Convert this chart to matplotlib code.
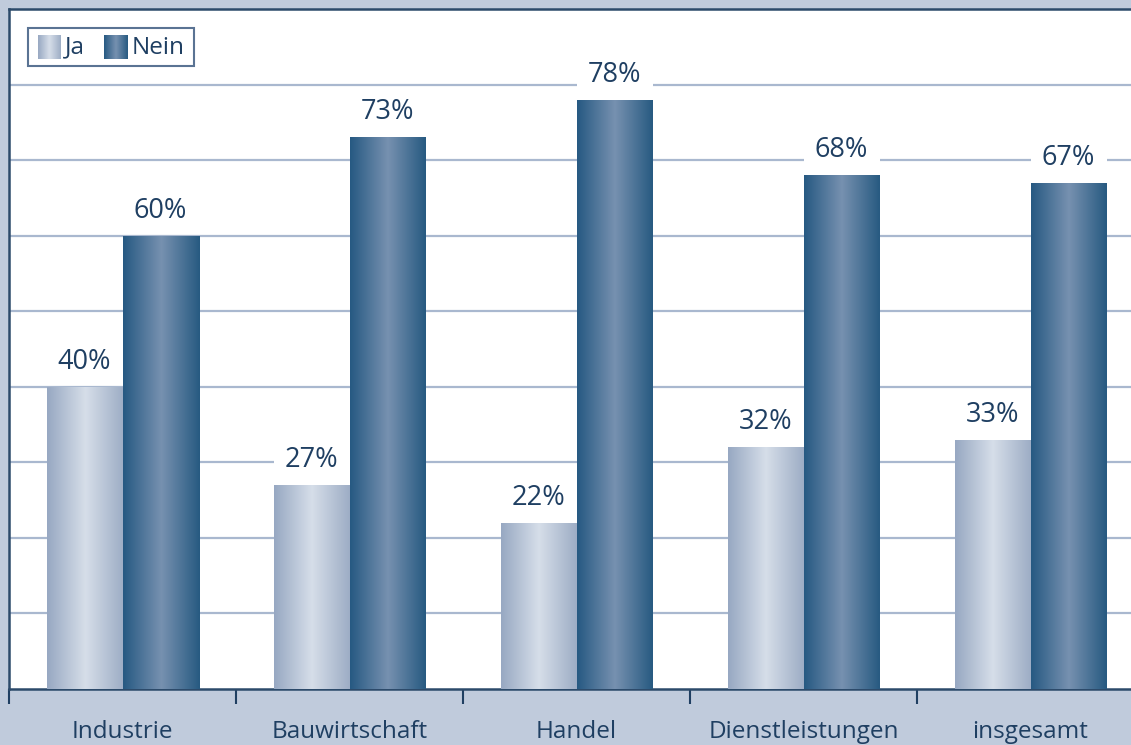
import numpy as np
import matplotlib
matplotlib.use("Agg")
import matplotlib.pyplot as plt
from matplotlib.patches import Rectangle
from matplotlib.colors import LinearSegmentedColormap

categories = ["Industrie", "Bauwirtschaft", "Handel", "Dienstleistungen", "insgesamt"]
ja = [40, 27, 22, 32, 33]
nein = [60, 73, 78, 68, 67]
series_names = ["Ja", "Nein"]

plt.rcParams['font.family'] = ['Open Sans', 'DejaVu Sans']

BG = "#c0cbdc"
DARK = "#1f3f62"
GRID = "#a9b8cf"

cmap_ja = LinearSegmentedColormap.from_list("ja", ["#97a8c2", "#d6dee9", "#9dadc5"])
cmap_nein = LinearSegmentedColormap.from_list("nein", ["#265982", "#7791b0", "#275a81"])
grad = np.linspace(0, 1, 256).reshape(1, -1)

W, H = 1131, 745
fig = plt.figure(figsize=(W / 100, H / 100), dpi=100, facecolor=BG)
ax = fig.add_axes([9 / W, (H - 689) / H, 1 - 9 / W, (689 - 9) / H])
ax.set_facecolor("white")

bw = 76 / 227
x = np.arange(len(categories))

for yv in range(10, 90, 10):
    ax.axhline(yv, color=GRID, lw=1.6, zorder=1)

def grad_bar(x0, h, cmap):
    rect = Rectangle((x0, 0), bw, h, facecolor="none", edgecolor="none", zorder=3)
    ax.add_patch(rect)
    im = ax.imshow(grad, cmap=cmap, extent=[x0, x0 + bw, 0, h], aspect="auto",
                   zorder=3, interpolation="bicubic")
    im.set_clip_path(rect)

px = 90 / 680  # data units per pixel
for i in range(len(categories)):
    for vals, x0, cmap in ((ja, x[i] - bw, cmap_ja), (nein, x[i], cmap_nein)):
        v = vals[i]
        grad_bar(x0, v, cmap)
        ax.add_patch(Rectangle((x0, v + 3 * px), bw, 38 * px, facecolor="white",
                               edgecolor="none", zorder=4))
        ax.text(x0 + bw / 2, v + 25 * px, f"{v}%", ha="center", va="center",
                fontsize=19.5, color=DARK, zorder=5)

ax.set_xticks(np.arange(-0.5, len(categories), 1.0))
ax.set_xticklabels([])
ax.set_xticks(x, minor=True)
ax.set_xticklabels(categories, minor=True)
ax.tick_params(axis="x", which="major", direction="out", length=11, width=1.5, color=DARK)
ax.tick_params(axis="x", which="minor", length=0, pad=22, labelsize=17.5, labelcolor=DARK)
ax.set_yticks([])
ax.set_xlim(-0.5, -0.5 + (W - 9) / 227)
ax.set_ylim(0, 90)
for s in ["left", "top", "bottom"]:
    ax.spines[s].set_color("#2c4a6a")
    ax.spines[s].set_linewidth(1.8)
ax.spines["right"].set_visible(False)

# legend
def fig_rect(x0, y0, x1, y1):
    return [x0 / W, 1 - y1 / H, (x1 - x0) / W, (y1 - y0) / H]

fig.patches.append(Rectangle((28 / W, 1 - 66 / H), 166 / W, 38 / H, transform=fig.transFigure,
                             facecolor="white", edgecolor="#5a7393", lw=1.5, zorder=10))
for (x0, x1, cmap, lab, tx) in ((38, 61, cmap_ja, series_names[0], 65),
                                (104, 128, cmap_nein, series_names[1], 132)):
    sax = fig.add_axes(fig_rect(x0, 35, x1, 59), zorder=11)
    sax.imshow(grad, cmap=cmap, aspect="auto", interpolation="bicubic")
    sax.axis("off")
    fig.text(tx / W, 1 - 47.5 / H, lab, ha="left", va="center", fontsize=17.5, color=DARK, zorder=12)

fig.savefig("out.png", dpi=100, facecolor=BG)
